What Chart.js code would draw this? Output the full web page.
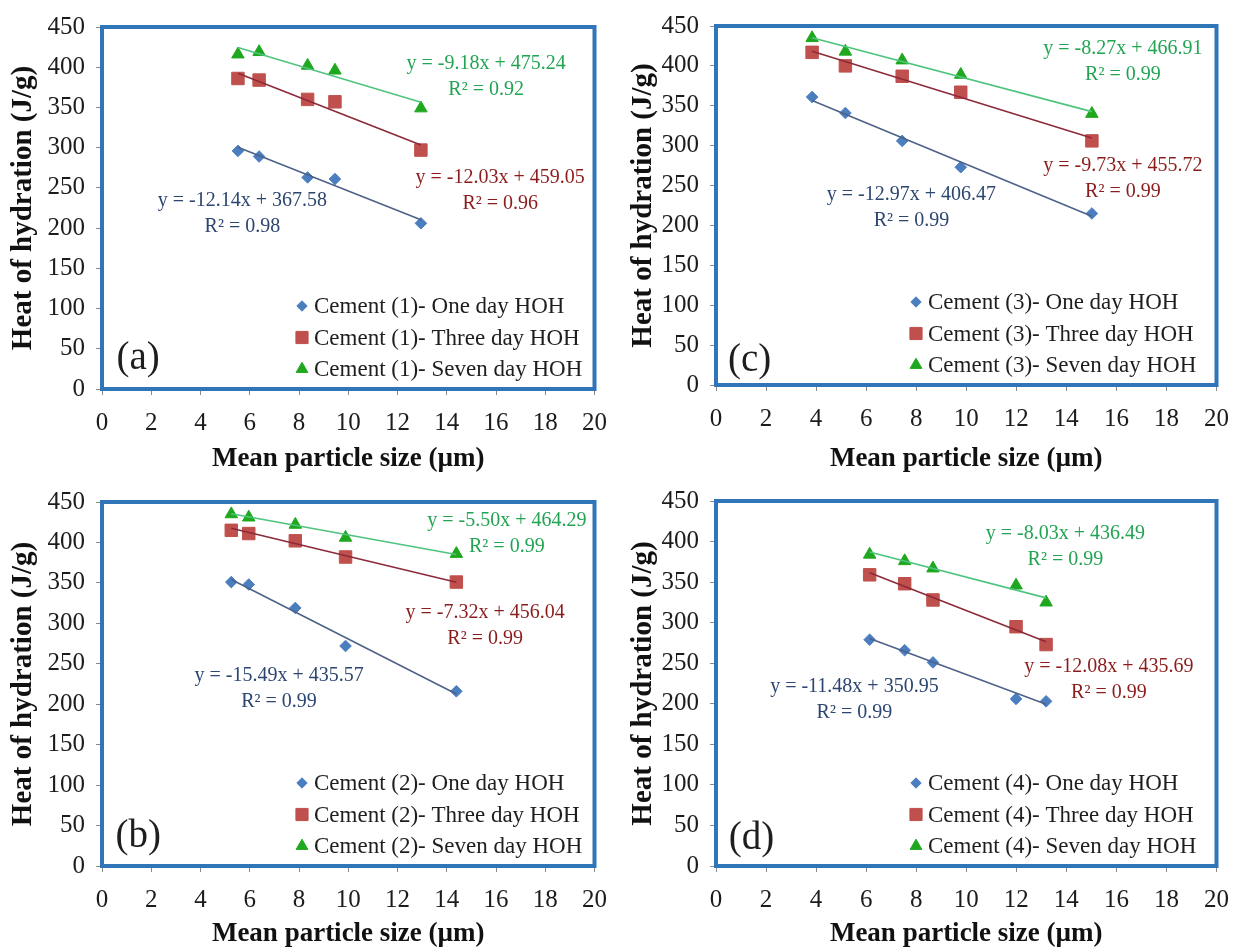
<!DOCTYPE html>
<html>
<head>
<meta charset="utf-8">
<script src="https://cdn.jsdelivr.net/npm/chart.js@4.4.0/dist/chart.umd.min.js"></script>
<style>
  html, body { margin: 0; padding: 0; background: #ffffff; }
  #wrap { position: relative; width: 1242px; height: 950px; overflow: hidden; }
  #wrap canvas { position: absolute; }
</style>
</head>
<body>
<div id="wrap">
  <canvas id="pa" width="620" height="475" style="left:0;top:0"></canvas>
  <canvas id="pc" width="622" height="475" style="left:620px;top:0"></canvas>
  <canvas id="pb" width="620" height="475" style="left:0;top:475px"></canvas>
  <canvas id="pd" width="622" height="475" style="left:620px;top:475px"></canvas>
</div>
<script>
// ---- Measured data: heat of hydration (J/g) vs mean particle size (µm) ----
const ageNames = ['One day HOH', 'Three day HOH', 'Seven day HOH'];

// Cement (1)
const sizeC1 = [5.52, 6.38, 8.35, 9.46, 12.95];
const oneDayC1 = [296, 289, 263, 261, 206];
const threeDayC1 = [386, 384, 360, 357, 297];
const sevenDayC1 = [416, 419, 402, 396, 349];
const slopeC1 = [-12.14, -12.03, -9.18];
const interceptC1 = [367.58, 459.05, 475.24];
const r2C1 = [0.98, 0.96, 0.92];

// Cement (2)
const sizeC2 = [5.25, 5.96, 7.85, 9.89, 14.39];
const oneDayC2 = [351, 348, 319, 272, 216];
const threeDayC2 = [415, 411, 402, 382, 351];
const sevenDayC2 = [435, 431, 422, 406, 386];
const slopeC2 = [-15.49, -7.32, -5.50];
const interceptC2 = [435.57, 456.04, 464.29];
const r2C2 = [0.99, 0.99, 0.99];

// Cement (3)
const sizeC3 = [3.84, 5.17, 7.44, 9.78, 15.02];
const oneDayC3 = [361, 341, 306, 273, 215];
const threeDayC3 = [417, 400, 387, 367, 306];
const sevenDayC3 = [435, 418, 407, 389, 340];
const slopeC3 = [-12.97, -9.73, -8.27];
const interceptC3 = [406.47, 455.72, 466.91];
const r2C3 = [0.99, 0.99, 0.99];

// Cement (4)
const sizeC4 = [6.14, 7.54, 8.67, 11.99, 13.19];
const oneDayC4 = [279, 266, 251, 206, 203];
const threeDayC4 = [359, 348, 328, 295, 273];
const sevenDayC4 = [384, 376, 367, 346, 325];
const slopeC4 = [-11.48, -12.08, -8.03];
const interceptC4 = [350.95, 435.69, 436.49];
const r2C4 = [0.99, 0.99, 0.99];

// Axis tick settings
const xTickMin = 0, xTickMax = 20, xTickStep = 2;
const yTickMin = 0, yTickMax = 450, yTickStep = 50;

// ---- Styling ----
const SERIF = '"Liberation Serif", "Times New Roman", serif';
const markerStyle = [
  { pointStyle: 'rectRot', radius: 5.8, color: '#4a7ebf' },
  { pointStyle: 'rect', radius: 8.8, color: '#c0504d' },
  { pointStyle: 'triangle', radius: 7.2, color: '#1fa81f' }
];
const legendMarkerRadius = [5.2, 8.6, 6.8];
const trendColor = ['#4e6289', '#8c2a3a', '#4fc47e'];
const eqColor = ['#2c4670', '#8b1c1c', '#22a453'];
const frameColor = '#2f75b8';

// ---- Panel layout (chart area in canvas pixels, annotation anchors in data units) ----
const panels = [
  { id: 'pa', tag: '(a)', cement: 1, size: sizeC1, values: [oneDayC1, threeDayC1, sevenDayC1],
    slope: slopeC1, intercept: interceptC1, r2: r2C1,
    area: { left: 102, top: 27, right: 598, bottom: 389 },
    eqAt: [[5.70, 233.7], [16.17, 262], [15.6, 404]], tagAt: [1.47, 37] },
  { id: 'pc', tag: '(c)', cement: 3, size: sizeC3, values: [oneDayC3, threeDayC3, sevenDayC3],
    slope: slopeC3, intercept: interceptC3, r2: r2C3,
    area: { left: 96, top: 17, right: 599, bottom: 385 },
    eqAt: [[7.81, 238.4], [16.26, 275], [16.26, 421.9]], tagAt: [1.34, 30.6] },
  { id: 'pb', tag: '(b)', cement: 2, size: sizeC2, values: [oneDayC2, threeDayC2, sevenDayC2],
    slope: slopeC2, intercept: interceptC2, r2: r2C2,
    area: { left: 102, top: 27, right: 600, bottom: 391 },
    eqAt: [[7.19, 235], [15.56, 313.4], [16.44, 426.5]], tagAt: [1.47, 36] },
  { id: 'pd', tag: '(d)', cement: 4, size: sizeC4, values: [oneDayC4, threeDayC4, sevenDayC4],
    slope: slopeC4, intercept: interceptC4, r2: r2C4,
    area: { left: 96, top: 23, right: 599, bottom: 391 },
    eqAt: [[5.53, 221], [15.7, 245.5], [13.96, 410]], tagAt: [1.42, 33.5] }
];

// Draws a marker shape (same geometry as Chart.js point styles)
function drawMarker(ctx, style, radius, x, y) {
  if (Chart.helpers && Chart.helpers.drawPoint) {
    ctx.save();
    ctx.fillStyle = style.color;
    ctx.strokeStyle = style.color;
    ctx.lineWidth = 1;
    Chart.helpers.drawPoint(ctx, { pointStyle: style.pointStyle, radius: radius, rotation: 0, borderWidth: 1 }, x, y);
    ctx.restore();
  }
}

// Blue frame around the plotting area
const framePlugin = {
  id: 'plotFrame',
  beforeDatasetsDraw(chart) {
    const { ctx, chartArea: a } = chart;
    ctx.save();
    ctx.strokeStyle = frameColor;
    ctx.lineWidth = 4;
    ctx.strokeRect(a.left, a.top, a.right - a.left, a.bottom - a.top);
    ctx.restore();
  }
};

// Legend box inside the lower-right part of the plot, trend equations and panel tag
const annotationPlugin = {
  id: 'panelNotes',
  afterDraw(chart) {
    const p = chart.options.plugins.panelNotes;
    const { ctx, chartArea: a, scales } = chart;
    const xs = scales.x, ys = scales.y;
    ctx.save();

    // legend rows
    const markerDatasets = chart.data.datasets.filter(d => d.isMeasured);
    ctx.font = '23px ' + SERIF;
    ctx.textAlign = 'left';
    ctx.textBaseline = 'middle';
    markerDatasets.forEach((d, i) => {
      const y = a.bottom - 83 + i * 31.5;
      const mx = a.left + 200;
      drawMarker(ctx, markerStyle[i], legendMarkerRadius[i], mx, y);
      ctx.fillStyle = '#1e1e1e';
      ctx.fillText(d.label, mx + 12, y + 1);
    });

    // trend line equations
    ctx.font = '20px ' + SERIF;
    ctx.textAlign = 'center';
    p.eqAt.forEach((pos, i) => {
      const cx = xs.getPixelForValue(pos[0]);
      const cy = ys.getPixelForValue(pos[1]);
      ctx.fillStyle = eqColor[i];
      ctx.fillText('y = ' + p.slope[i].toFixed(2) + 'x + ' + p.intercept[i].toFixed(2), cx, cy);
      ctx.fillText('R\u00B2 = ' + p.r2[i].toFixed(2), cx, cy + 26);
    });

    // panel tag
    ctx.font = '39px ' + SERIF;
    ctx.fillStyle = '#1e1e1e';
    ctx.fillText(p.tag, xs.getPixelForValue(p.tagAt[0]), ys.getPixelForValue(p.tagAt[1]));
    ctx.restore();
  }
};

function buildPanel(p) {
  const canvas = document.getElementById(p.id);
  const W = canvas.width, H = canvas.height;
  const datasets = [];

  // fitted trend lines, drawn above the markers (lower order = on top)
  p.values.forEach((vals, i) => {
    const x0 = Math.min(...p.size), x1 = Math.max(...p.size);
    datasets.push({
      label: 'trend ' + i,
      type: 'scatter',
      showLine: true,
      order: 0,
      data: [
        { x: x0, y: p.slope[i] * x0 + p.intercept[i] },
        { x: x1, y: p.slope[i] * x1 + p.intercept[i] }
      ],
      borderColor: trendColor[i],
      borderWidth: 1.6,
      pointRadius: 0,
      fill: false
    });
  });

  // measured points
  p.values.forEach((vals, i) => {
    datasets.push({
      label: 'Cement (' + p.cement + ')- ' + ageNames[i],
      isMeasured: true,
      type: 'scatter',
      order: 1,
      data: vals.map((v, k) => ({ x: p.size[k], y: v })),
      pointStyle: markerStyle[i].pointStyle,
      pointRadius: markerStyle[i].radius,
      pointBackgroundColor: markerStyle[i].color,
      pointBorderColor: markerStyle[i].color,
      pointBorderWidth: 1,
      showLine: false
    });
  });

  new Chart(canvas, {
    type: 'scatter',
    data: { datasets },
    plugins: [framePlugin, annotationPlugin],
    options: {
      responsive: false,
      animation: false,
      devicePixelRatio: 1,
      events: [],
      layout: { padding: { left: 0, top: p.area.top, right: W - p.area.right, bottom: 0 } },
      plugins: {
        legend: { display: false },
        tooltip: { enabled: false },
        panelNotes: p
      },
      scales: {
        x: {
          type: 'linear',
          min: xTickMin, max: xTickMax,
          afterFit(scale) { scale.height = H - p.area.bottom; },
          ticks: { stepSize: xTickStep, padding: 13, color: '#1c1c1c', font: { family: SERIF, size: 25 } },
          grid: { drawOnChartArea: false, drawTicks: true, tickLength: 6, color: '#8a8a8a' },
          border: { display: true, color: '#8a8a8a' },
          title: {
            display: true, text: 'Mean particle size (\u00B5m)', color: '#111111',
            font: { family: SERIF, size: 27, weight: 'bold' }, padding: { top: 0, bottom: 0 }
          }
        },
        y: {
          type: 'linear',
          min: yTickMin, max: yTickMax,
          afterFit(scale) { scale.width = p.area.left; },
          ticks: { stepSize: yTickStep, padding: 11, color: '#1c1c1c', font: { family: SERIF, size: 25 } },
          grid: { drawOnChartArea: false, drawTicks: true, tickLength: 6, color: '#8a8a8a' },
          border: { display: true, color: '#8a8a8a' },
          title: {
            display: true, text: 'Heat of hydration (J/g)', color: '#111111',
            font: { family: SERIF, size: 29, weight: 'bold' }, padding: { top: 6, bottom: 0 }
          }
        }
      }
    }
  });
}

panels.forEach(buildPanel);
</script>
</body>
</html>
